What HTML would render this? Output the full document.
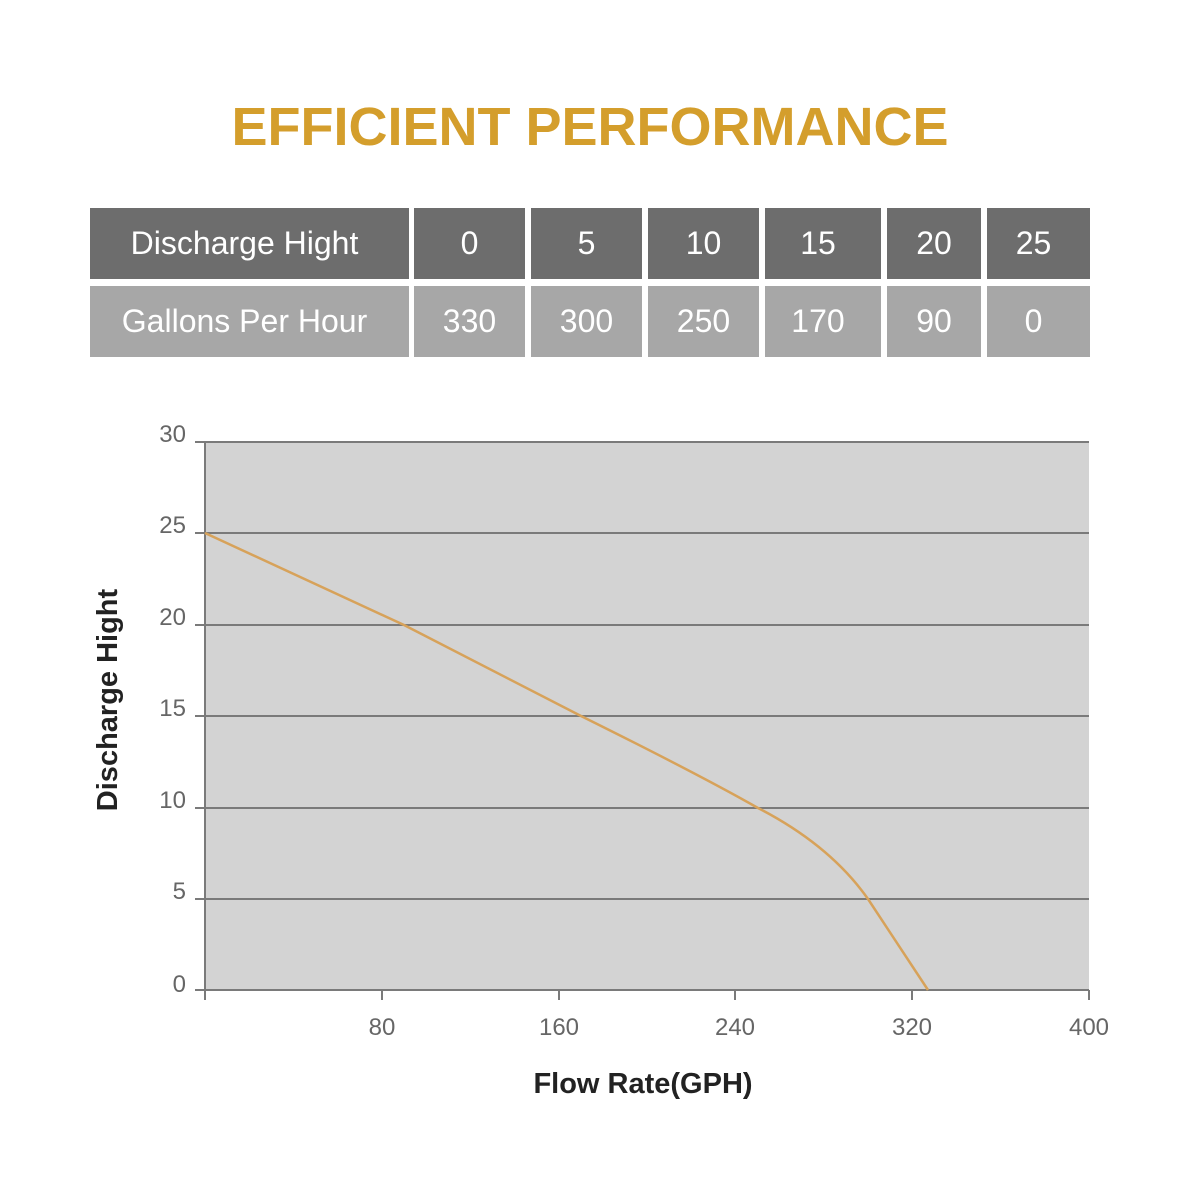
<!DOCTYPE html><html><head><style>
body{margin:0;background:#fff;width:1200px;height:1200px;position:relative;font-family:"Liberation Sans",sans-serif;overflow:hidden}
.t{position:absolute;left:0;width:1180px;top:96px;text-align:center;font-size:54px;font-weight:bold;color:#d49e2c;letter-spacing:0px}
.c{position:absolute;color:#fff;font-size:32px;display:flex;align-items:center;justify-content:center}
</style></head><body>
<div class="t">EFFICIENT PERFORMANCE</div>
<div class="c" style="left:90px;top:208px;width:309px;height:71px;background:#6d6d6d;padding-right:10px">Discharge Hight</div>
<div class="c" style="left:414px;top:208px;width:111px;height:71px;background:#6d6d6d">0</div>
<div class="c" style="left:531px;top:208px;width:111px;height:71px;background:#6d6d6d">5</div>
<div class="c" style="left:648px;top:208px;width:111px;height:71px;background:#6d6d6d">10</div>
<div class="c" style="left:765px;top:208px;width:106px;height:71px;background:#6d6d6d;padding-right:10px">15</div>
<div class="c" style="left:887px;top:208px;width:94px;height:71px;background:#6d6d6d">20</div>
<div class="c" style="left:987px;top:208px;width:93px;height:71px;background:#6d6d6d;padding-right:10px">25</div>
<div class="c" style="left:90px;top:286px;width:309px;height:71px;background:#a7a7a7;padding-right:10px">Gallons Per Hour</div>
<div class="c" style="left:414px;top:286px;width:111px;height:71px;background:#a7a7a7">330</div>
<div class="c" style="left:531px;top:286px;width:111px;height:71px;background:#a7a7a7">300</div>
<div class="c" style="left:648px;top:286px;width:111px;height:71px;background:#a7a7a7">250</div>
<div class="c" style="left:765px;top:286px;width:106px;height:71px;background:#a7a7a7;padding-right:10px">170</div>
<div class="c" style="left:887px;top:286px;width:94px;height:71px;background:#a7a7a7">90</div>
<div class="c" style="left:987px;top:286px;width:93px;height:71px;background:#a7a7a7;padding-right:10px">0</div>
<svg width="1200" height="1200" style="position:absolute;left:0;top:0" font-family="Liberation Sans, sans-serif">
<rect x="205" y="442" width="884" height="548" fill="#d3d3d3"/>
<g stroke="#7a7a7a" stroke-width="2">
<line x1="195" y1="442" x2="1089" y2="442"/><line x1="195" y1="533" x2="1089" y2="533"/>
<line x1="195" y1="625" x2="1089" y2="625"/><line x1="195" y1="716" x2="1089" y2="716"/>
<line x1="195" y1="808" x2="1089" y2="808"/><line x1="195" y1="899" x2="1089" y2="899"/>
<line x1="195" y1="990" x2="1089" y2="990"/>
<line x1="205" y1="442" x2="205" y2="1000"/>
<line x1="382" y1="990" x2="382" y2="1000"/><line x1="559" y1="990" x2="559" y2="1000"/>
<line x1="735" y1="990" x2="735" y2="1000"/><line x1="912" y1="990" x2="912" y2="1000"/><line x1="1089" y1="990" x2="1089" y2="1000"/>
</g>
<path d="M205,533 L404,625 L581,716 Q700,775 758,808 Q830,845 868,899 Q905,955 928,990" fill="none" stroke="#d7a25a" stroke-width="2.5"/>
<g fill="#666" font-size="24" text-anchor="end">
<text x="186" y="442">30</text><text x="186" y="533">25</text><text x="186" y="625">20</text>
<text x="186" y="716">15</text><text x="186" y="808">10</text><text x="186" y="899">5</text><text x="186" y="992">0</text>
</g>
<g fill="#666" font-size="24" text-anchor="middle">
<text x="382" y="1035">80</text><text x="559" y="1035">160</text><text x="735" y="1035">240</text>
<text x="912" y="1035">320</text><text x="1089" y="1035">400</text>
</g>
<text x="643" y="1093" text-anchor="middle" font-size="29" font-weight="bold" fill="#222">Flow Rate(GPH)</text>
<text transform="translate(117,700) rotate(-90)" text-anchor="middle" font-size="29" font-weight="bold" fill="#222">Discharge Hight</text>
</svg>
</body></html>
